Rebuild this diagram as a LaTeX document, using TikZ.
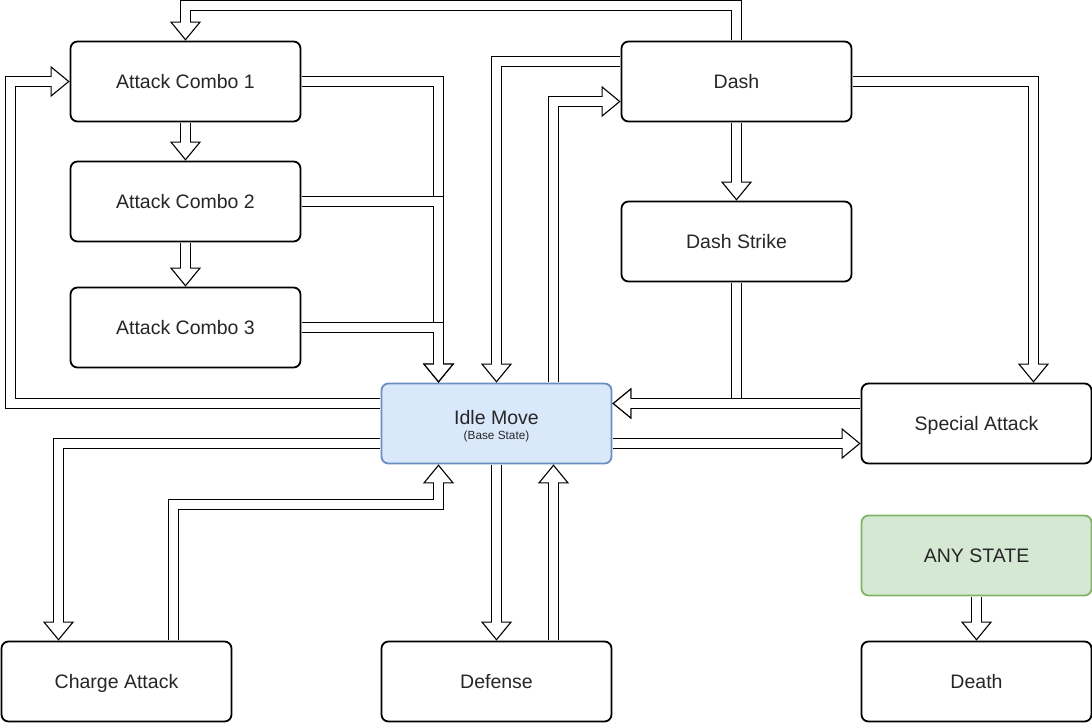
\documentclass[tikz,border=0pt]{standalone}
\usepackage{fontspec}
\setmainfont{Liberation Sans}
\usetikzlibrary{arrows.meta}
\definecolor{idlefill}{HTML}{DAE8FC}
\definecolor{idleline}{HTML}{6C8EBF}
\definecolor{anyfill}{HTML}{D5E8D4}
\definecolor{anyline}{HTML}{82B366}
\begin{document}
\begin{tikzpicture}[x=1pt, y=-1pt,
	st/.style={draw, line width=1.8pt, rounded corners=7pt, fill=white, minimum width=230pt, minimum height=80pt, text=black!85, font=\fontsize{19.5}{23}\selectfont, text height=14pt, text depth=0pt},
	flow/.style={draw=black, line width=11pt, shorten <=0.9pt, -{Triangle[open, fill=white, length=19pt, width=31pt, line width=1.1pt]}, postaction={draw=white, line width=9pt, arrows=-, shorten >=17pt}}]
	\useasboundingbox (0,0) rectangle (1092,723);

	\node[st] (combo1) at (185.5,81.5) {Attack Combo 1};
	\node[st] (combo2) at (185.5,201.5) {Attack Combo 2};
	\node[st] (combo3) at (185.5,327.5) {Attack Combo 3};

	\node[st] (dash) at (736.5,81.5) {Dash};
	\node[st] (strike) at (736.5,241.5) {Dash Strike};

	\node[st, fill=idlefill, draw=idleline, align=center, text height=33pt, text depth=2pt] (idle) at (496.5,423.5) {Idle Move\\[-8pt]{\fontsize{11.8}{13}\selectfont (Base State)}};
	\node[st] (special) at (976.5,423.5) {Special Attack};

	\node[st, fill=anyfill, draw=anyline] (any) at (976.5,555.5) {ANY STATE};
	\node[st] (death) at (976.5,681.5) {Death};
	\node[st] (charge) at (116.5,681.5) {Charge Attack};
	\node[st] (defense) at (496.5,681.5) {Defense};

	% combo chain
	\draw[flow] (combo1) -- (combo2);
	\draw[flow] (combo2) -- (combo3);
	\draw[flow] (combo1.east) -| ([xshift=-58pt]idle.north);
	\draw[flow] (combo2.east) -| ([xshift=-58pt]idle.north);
	\draw[flow] (combo3.east) -| ([xshift=-58pt]idle.north);
	\draw[flow] ([yshift=20pt]idle.west) -| ([xshift=-59pt]combo1.west) -- (combo1.west);
	\draw[flow] (dash.north) -- ++(0,-35) -| (combo1.north);

	% dash
	\draw[flow] ([yshift=20pt]dash.west) -| (idle.north);
	\draw[flow] ([xshift=57pt]idle.north) |- ([yshift=-20pt]dash.west);
	\draw[flow] (dash) -- (strike);
	\draw[flow] (dash.east) -| ([xshift=57pt]special.north);
	\draw[flow] (strike.south) |- ([yshift=20pt]idle.east);

	% special
	\draw[flow] ([yshift=20pt]special.west) -- ([yshift=20pt]idle.east);
	\draw[flow] ([yshift=-20pt]idle.east) -- ([yshift=-20pt]special.west);

	% charge and defense
	\draw[flow] ([yshift=-20pt]idle.west) -| ([xshift=-58pt]charge.north);
	\draw[flow] ([xshift=57pt]charge.north) -- ++(0,-136) -| ([xshift=-58pt]idle.south);
	\draw[flow] (idle) -- (defense);
	\draw[flow] ([xshift=57pt]defense.north) -- ([xshift=57pt]idle.south);

	\draw[flow] (any) -- (death);
\end{tikzpicture}
\end{document}
